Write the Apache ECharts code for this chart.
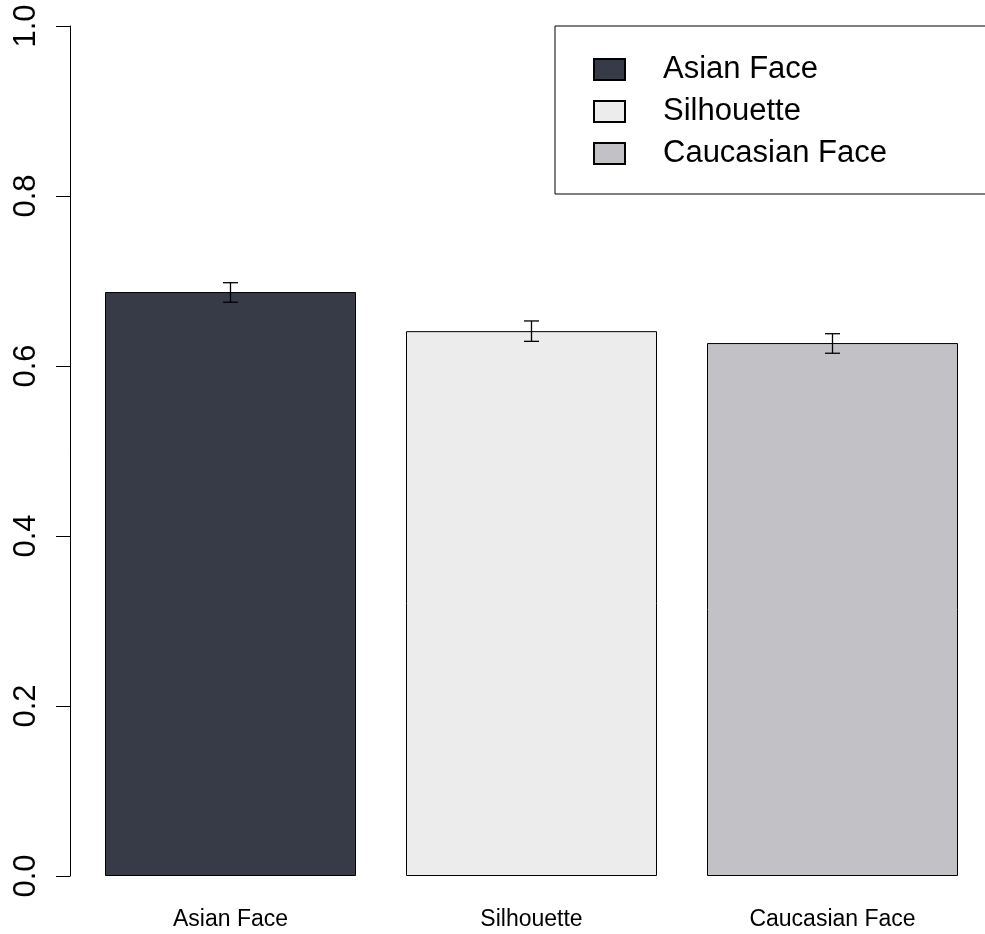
<!DOCTYPE html>
<html>
<head>
<meta charset="utf-8">
<script src="https://cdn.jsdelivr.net/npm/echarts@6/dist/echarts.min.js"></script>
<style>
  html, body { margin: 0; padding: 0; background: #fff; }
  #chart { width: 985px; height: 934px; }
</style>
</head>
<body>
<div id="chart"></div>
<script>
let $ = a => document.querySelector(a)

// data
const categories = ['Asian Face', 'Silhouette', 'Caucasian Face']
const means = [0.687, 0.641, 0.627]
const errLow = [0.675, 0.629, 0.615]
const errHigh = [0.698, 0.653, 0.638]
const colors = ['#363b47', '#ececec', '#c2c1c6']
const yTicks = [0, 0.2, 0.4, 0.6, 0.8, 1.0]

const font = 'Liberation Sans, Arial, Helvetica, sans-serif'

// one series per group so the legend gets three entries
const barSeries = categories.map((name, i) => ({
    name: name,
    type: 'bar',
    stack: 'all',
    barWidth: 251,
    data: categories.map((c, j) => j === i ? means[i] : null),
    itemStyle: { color: colors[i], borderColor: '#000', borderWidth: 1 },
    silent: true
}))

// error bars (whiskers with caps)
const errSeries = {
    type: 'custom',
    data: categories.map((c, i) => [i, errLow[i], errHigh[i]]),
    renderItem: (params, api) => {
        let lo = api.coord([api.value(0), api.value(1)])
        let hi = api.coord([api.value(0), api.value(2)])
        let x = lo[0], w = 7.5
        let st = { stroke: '#000', lineWidth: 1.3 }
        return {
            type: 'group',
            children: [
                { type: 'line', shape: { x1: x, y1: lo[1], x2: x, y2: hi[1] }, style: st },
                { type: 'line', shape: { x1: x - w, y1: lo[1], x2: x + w, y2: lo[1] }, style: st },
                { type: 'line', shape: { x1: x - w, y1: hi[1], x2: x + w, y2: hi[1] }, style: st }
            ]
        }
    },
    z: 10,
    silent: true
}

echarts.init($('#chart')).setOption({
    animation: false,
    textStyle: { fontFamily: font },
    grid: { left: 80, right: 2, top: 26, bottom: 58, containLabel: false },
    legend: {
        orient: 'vertical',
        left: 555,
        top: 26,
        data: categories,
        icon: 'rect',
        itemWidth: 31,
        itemHeight: 21,
        itemGap: 11,
        borderColor: '#000',
        borderWidth: 1,
        padding: [28, 200, 25, 38],
        textStyle: { fontSize: 31, color: '#000', fontFamily: font, padding: [0, 0, 0, 33] },
        selectedMode: false
    },
    xAxis: {
        type: 'category',
        data: categories,
        axisLine: { show: false },
        axisTick: { show: false },
        axisLabel: { color: '#000', fontSize: 23, margin: 32, fontFamily: font }
    },
    yAxis: {
        type: 'value',
        min: 0,
        max: 1,
        interval: 0.2,
        offset: 10,
        splitLine: { show: false },
        axisLine: { show: true, lineStyle: { color: '#000', width: 1 } },
        axisTick: { show: true, length: 14, lineStyle: { color: '#000' } },
        axisLabel: {
            color: '#000',
            fontSize: 31,
            rotate: 90,
            margin: 28,
            fontFamily: font,
            formatter: v => yTicks.some(t => Math.abs(t - v) < 1e-9) ? v.toFixed(1) : ''
        }
    },
    series: [...barSeries, errSeries]
})
</script>
</body>
</html>
